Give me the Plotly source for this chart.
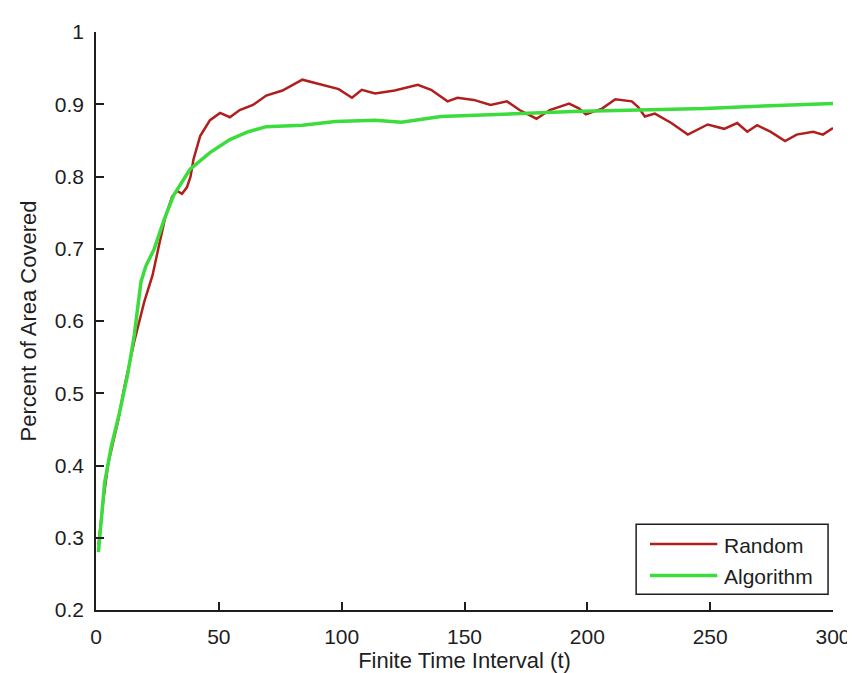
import plotly.graph_objects as go

# Random series
t_random = [1, 3, 5, 9, 11.5, 15.6, 19.6, 23, 25.6, 28.3, 31, 33, 35, 37, 38.5, 39.7, 42.4, 46.4,
            50.5, 54.5, 58.5, 63.9, 69.3, 75.9, 84, 90.8, 98.8, 104.2, 108.2, 113.6, 121.6,
            131, 136.4, 143.1, 147.1, 153.8, 160.6, 167.3, 172.4, 179.3, 184.7, 192.6, 196.7,
            199.4, 206, 211.4, 218.1, 220.7, 223.4, 227.5, 234.2, 240.9, 249, 255.7, 261,
            265.1, 269.1, 274.5, 280.5, 285.2, 291.9, 295.9, 300]
random_vals = [0.29, 0.353, 0.403, 0.462, 0.508, 0.572, 0.626, 0.663, 0.704, 0.745, 0.772, 0.78,
               0.776, 0.785, 0.80, 0.824, 0.856, 0.878, 0.888, 0.882, 0.892, 0.899, 0.912,
               0.919, 0.934, 0.928, 0.921, 0.909, 0.920, 0.915, 0.919, 0.927, 0.920, 0.904,
               0.909, 0.906, 0.899, 0.904, 0.892, 0.880, 0.892, 0.901, 0.894, 0.886, 0.894,
               0.907, 0.904, 0.896, 0.883, 0.887, 0.874, 0.858, 0.872, 0.866, 0.874, 0.862,
               0.871, 0.862, 0.849, 0.858, 0.862, 0.858, 0.867]

# Algorithm series
t_alg = [1, 2.1, 3.5, 6.2, 9.5, 12.9, 15.6, 18.3, 20.3, 23.6, 27.7, 31.6, 38.3, 46.4, 54.5,
         62, 69.3, 84, 97.4, 113.6, 124.3, 140.4, 167.3, 194.1, 221, 247.8, 274.6, 300]
alg_vals = [0.28, 0.317, 0.376, 0.426, 0.472, 0.526, 0.581, 0.654, 0.676, 0.699, 0.74, 0.774,
            0.81, 0.833, 0.851, 0.862, 0.869, 0.871, 0.876, 0.878, 0.875, 0.883, 0.887, 0.890,
            0.892, 0.894, 0.898, 0.901]

series_names = ["Random", "Algorithm"]
series_colors = ["#b01e1e", "#3ddc3d"]
series_widths = [2.5, 3.5]

x_ticks = [0, 50, 100, 150, 200, 250, 300]
y_ticks = [0.2, 0.3, 0.4, 0.5, 0.6, 0.7, 0.8, 0.9, 1]
y_tick_labels = ["0.2", "0.3", "0.4", "0.5", "0.6", "0.7", "0.8", "0.9", "1"]

FONT = "Liberation Sans, Arial, sans-serif"
TXT = "#1e1e1e"
FS = 21
FS_TITLE = 22

W, H = 855, 673
L, R, T, B = 88, 22, 19, 67
PW, PH = W - L - R, H - T - B


def px_to_paper(px, py):
    return (px - L) / PW, (H - B - py) / PH


fig = go.Figure()
fig.add_trace(go.Scatter(x=t_random, y=random_vals, mode="lines", name=series_names[0],
                         line=dict(color=series_colors[0], width=series_widths[0]),
                         showlegend=False))
fig.add_trace(go.Scatter(x=t_alg, y=alg_vals, mode="lines", name=series_names[1],
                         line=dict(color=series_colors[1], width=series_widths[1]),
                         showlegend=False))

# MATLAB-style legend box (drawn in paper coordinates)
bx0, by0 = px_to_paper(634, 590)
bx1, by1 = px_to_paper(828, 519)
shapes = [dict(type="rect", xref="paper", yref="paper", x0=bx0, y0=by0, x1=bx1, y1=by1,
               line=dict(color="#1e1e1e", width=1.5), fillcolor="white", layer="above")]
annotations = []
row_y = [539, 571]
for name, col, wdt, ry in zip(series_names, series_colors, series_widths, row_y):
    lx0, ly = px_to_paper(648, ry)
    lx1, _ = px_to_paper(716, ry)
    shapes.append(dict(type="line", xref="paper", yref="paper", x0=lx0, y0=ly, x1=lx1, y1=ly,
                       line=dict(color=col, width=wdt), layer="above"))
    tx, ty = px_to_paper(721, ry + 1)
    annotations.append(dict(text=name, xref="paper", yref="paper", x=tx, y=ty,
                            xanchor="left", yanchor="middle", showarrow=False,
                            font=dict(family=FONT, size=FS, color=TXT)))

fig.update_layout(
    width=W, height=H,
    margin=dict(l=L, r=R, t=T, b=B),
    paper_bgcolor="white", plot_bgcolor="white",
    font=dict(family=FONT, size=FS, color=TXT),
    showlegend=False,
    shapes=shapes, annotations=annotations,
)
fig.update_xaxes(
    range=[0, 300], tickvals=x_ticks, ticks="inside", ticklen=8, tickwidth=1.5,
    tickcolor="#1e1e1e", showline=True, linecolor="#1e1e1e", linewidth=1.5,
    showgrid=False, zeroline=False, mirror=False, ticklabelstandoff=7,
    tickfont=dict(family=FONT, size=FS, color=TXT),
    title=dict(text="Finite Time Interval (t)", font=dict(family=FONT, size=FS_TITLE, color=TXT),
               standoff=6),
)
fig.update_yaxes(
    range=[0.2, 1], tickvals=y_ticks, ticktext=y_tick_labels, ticks="inside", ticklen=8,
    tickwidth=1.5, tickcolor="#1e1e1e", showline=True, linecolor="#1e1e1e", linewidth=1.5,
    showgrid=False, zeroline=False, mirror=False, ticklabelstandoff=6,
    tickfont=dict(family=FONT, size=FS, color=TXT),
    title=dict(text="Percent of Area Covered", font=dict(family=FONT, size=FS_TITLE, color=TXT),
               standoff=12),
)

fig.write_html("out.html")
